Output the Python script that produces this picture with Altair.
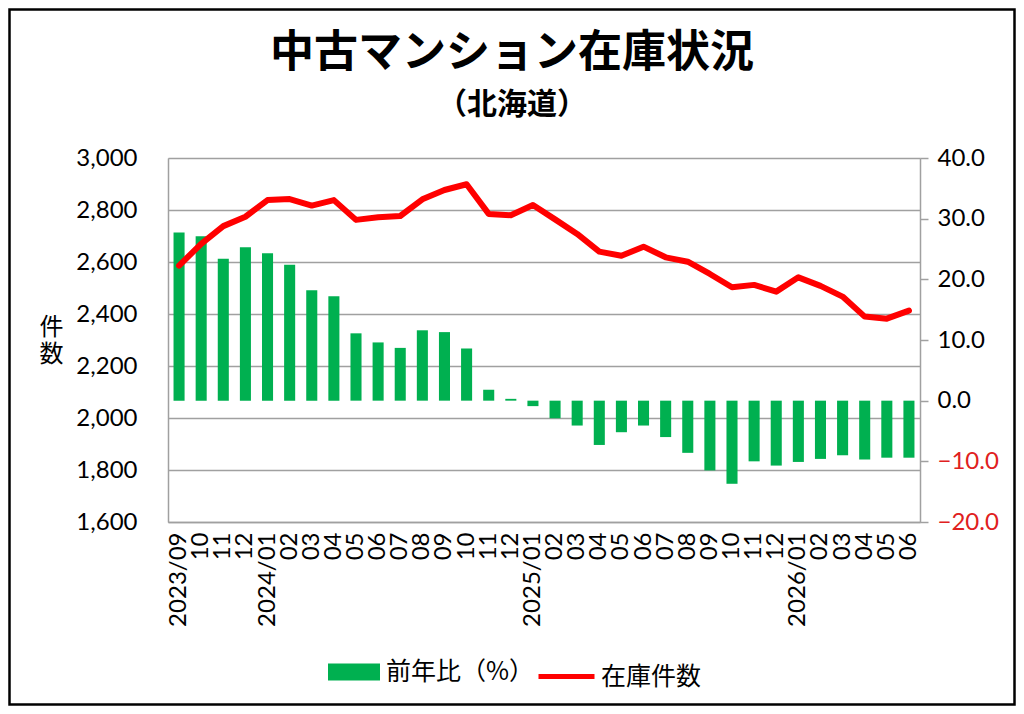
import json
import altair as alt
import pandas as pd

# ---- data ----
months = [
    "2023/09", "2023/10", "2023/11", "2023/12",
    "2024/01", "2024/02", "2024/03", "2024/04", "2024/05", "2024/06",
    "2024/07", "2024/08", "2024/09", "2024/10", "2024/11", "2024/12",
    "2025/01", "2025/02", "2025/03", "2025/04", "2025/05", "2025/06",
    "2025/07", "2025/08", "2025/09", "2025/10", "2025/11", "2025/12",
    "2026/01", "2026/02", "2026/03", "2026/04", "2026/05", "2026/06",
]
tick_labels = [
    "2023/09", "10", "11", "12",
    "2024/01", "02", "03", "04", "05", "06",
    "07", "08", "09", "10", "11", "12",
    "2025/01", "02", "03", "04", "05", "06",
    "07", "08", "09", "10", "11", "12",
    "2026/01", "02", "03", "04", "05", "06",
]
stock = [
    2586, 2670, 2738, 2774, 2838, 2842, 2817, 2838, 2762, 2772,
    2777, 2841, 2877, 2899, 2785, 2780, 2819, 2764, 2708, 2640,
    2624, 2659, 2618, 2601, 2554, 2503, 2512, 2486, 2541, 2508,
    2467, 2390, 2382, 2413,
]
yoy = [
    27.7, 27.1, 23.4, 25.3, 24.3, 22.4, 18.2, 17.2, 11.1, 9.6,
    8.7, 11.6, 11.3, 8.6, 1.8, 0.3, -0.9, -2.9, -4.1, -7.3,
    -5.2, -4.1, -6.0, -8.6, -11.5, -13.7, -10.0, -10.7, -10.1, -9.6,
    -9.0, -9.7, -9.4, -9.4,
]
left_ticks = [1600, 1800, 2000, 2200, 2400, 2600, 2800, 3000]
right_ticks = [-20, -10, 0, 10, 20, 30, 40]
series_names = ["前年比（%）", "在庫件数"]
series_colors = ["#00B050", "#FF0000"]

title_text = "中古マンション在庫状況"
subtitle_text = "（北海道）"
left_title = ["件", "数"]

df = pd.DataFrame({"month": months, "stock": stock, "yoy": yoy})
df["bar_series"] = series_names[0]
df["line_series"] = series_names[1]

W, H = 752, 364
PAD = {"left": 160, "top": 150, "right": 96, "bottom": 184}
GRID = "#A0A0A0"
LATIN = "Lato"
CJK = "Noto Sans CJK JP"

label_expr = f"{json.dumps(tick_labels)}[indexof({json.dumps(months)}, datum.value)]"

x_enc = alt.X(
    "month:N",
    sort=months,
    title=None,
    scale=alt.Scale(paddingInner=0.5, paddingOuter=0.25),
    axis=alt.Axis(
        labelAngle=-90,
        labelExpr=label_expr,
        labelOverlap=False,
        ticks=False,
        tickSize=0,
        labelPadding=10,
        domainColor=GRID,
        domainWidth=1.5,
        labelFont=LATIN,
        labelFontSize=24,
        labelColor="black",
        grid=False,
    ),
)

bars = alt.Chart(df).mark_bar().encode(
    x=x_enc,
    y=alt.Y(
        "yoy:Q",
        title=None,
        scale=alt.Scale(domain=[-20, 40], nice=False, zero=False),
        axis=alt.Axis(
            orient="right",
            values=right_ticks,
            format=".1f",
            grid=False,
            domainColor=GRID,
            domainWidth=1.5,
            tickColor=GRID,
            tickWidth=1.5,
            tickSize=8,
            labelPadding=9,
            labelFont=LATIN,
            labelFontSize=24,
            labelColor={"condition": {"test": "datum.value < 0", "value": "#E02020"}, "value": "black"},
        ),
    ),
    fill=alt.Fill(
        "bar_series:N",
        scale=alt.Scale(domain=[series_names[0]], range=[series_colors[0]]),
        legend=alt.Legend(
            title=None,
            orient="none",
            legendX=160,
            legendY=488,
            symbolType="M-1,-0.33H1V0.33H-1Z",
            symbolSize=2704,
            symbolStrokeWidth=0,
            labelFont=CJK,
            labelFontSize=25,
            labelColor="black",
            labelOffset=6,
            padding=0,
        ),
    ),
)

line = alt.Chart(df).mark_line(strokeWidth=6, strokeJoin="round", strokeCap="round").encode(
    x=x_enc,
    y=alt.Y(
        "stock:Q",
        scale=alt.Scale(domain=[1600, 3000], nice=False, zero=False),
        axis=alt.Axis(
            orient="left",
            values=left_ticks,
            format=",.0f",
            grid=True,
            gridColor=GRID,
            gridWidth=1.5,
            domainColor=GRID,
            domainWidth=1.5,
            ticks=False,
            tickSize=0,
            labelPadding=31,
            labelFont=LATIN,
            labelFontSize=24,
            labelColor="black",
            title=left_title,
            titleAngle=0,
            titleFont=CJK,
            titleFontSize=24,
            titleFontWeight="normal",
            titleColor="black",
            titleAlign="center",
            titleBaseline="top",
            titleLineHeight=27,
            titleX=-117,
            titleY=157,
        ),
    ),
    stroke=alt.Stroke(
        "line_series:N",
        scale=alt.Scale(domain=[series_names[1]], range=[series_colors[1]]),
        legend=alt.Legend(
            title=None,
            orient="none",
            legendX=368,
            legendY=488,
            symbolType="stroke",
            symbolSize=3136,
            symbolStrokeWidth=5,
            labelFont=CJK,
            labelFontSize=25,
            labelColor="black",
            labelOffset=4,
            padding=0,
        ),
    ),
)

title_layer = alt.Chart(alt.Data(values=[{"t": title_text}])).mark_text(
    font=CJK, fontSize=44, fontWeight="bold", color="black", align="center", baseline="middle"
).encode(text="t:N", x=alt.value(344), y=alt.value(-104))

subtitle_layer = alt.Chart(alt.Data(values=[{"t": subtitle_text}])).mark_text(
    font=CJK, fontSize=30, fontWeight="bold", color="black", align="center", baseline="middle"
).encode(text="t:N", x=alt.value(344), y=alt.value(-53))

frame = alt.Chart(alt.Data(values=[{"f": 1}])).mark_rect(
    fill="transparent", stroke="black", strokeWidth=2.5
).encode(
    x=alt.value(-PAD["left"] + 1.5),
    x2=alt.value(W + PAD["right"] - 1.5),
    y=alt.value(-PAD["top"] + 1.5),
    y2=alt.value(H + PAD["bottom"] - 1.5),
)

chart = (
    alt.layer(bars, line, title_layer, subtitle_layer, frame)
    .resolve_scale(y="independent")
    .properties(
        width=W,
        height=H,
        padding=PAD,
        autosize=alt.AutoSizeParams(type="none"),
    )
    .configure_view(stroke=None)
    .configure(background="white")
)

chart.save("out.html", embed_options={"renderer": "svg", "actions": False})
